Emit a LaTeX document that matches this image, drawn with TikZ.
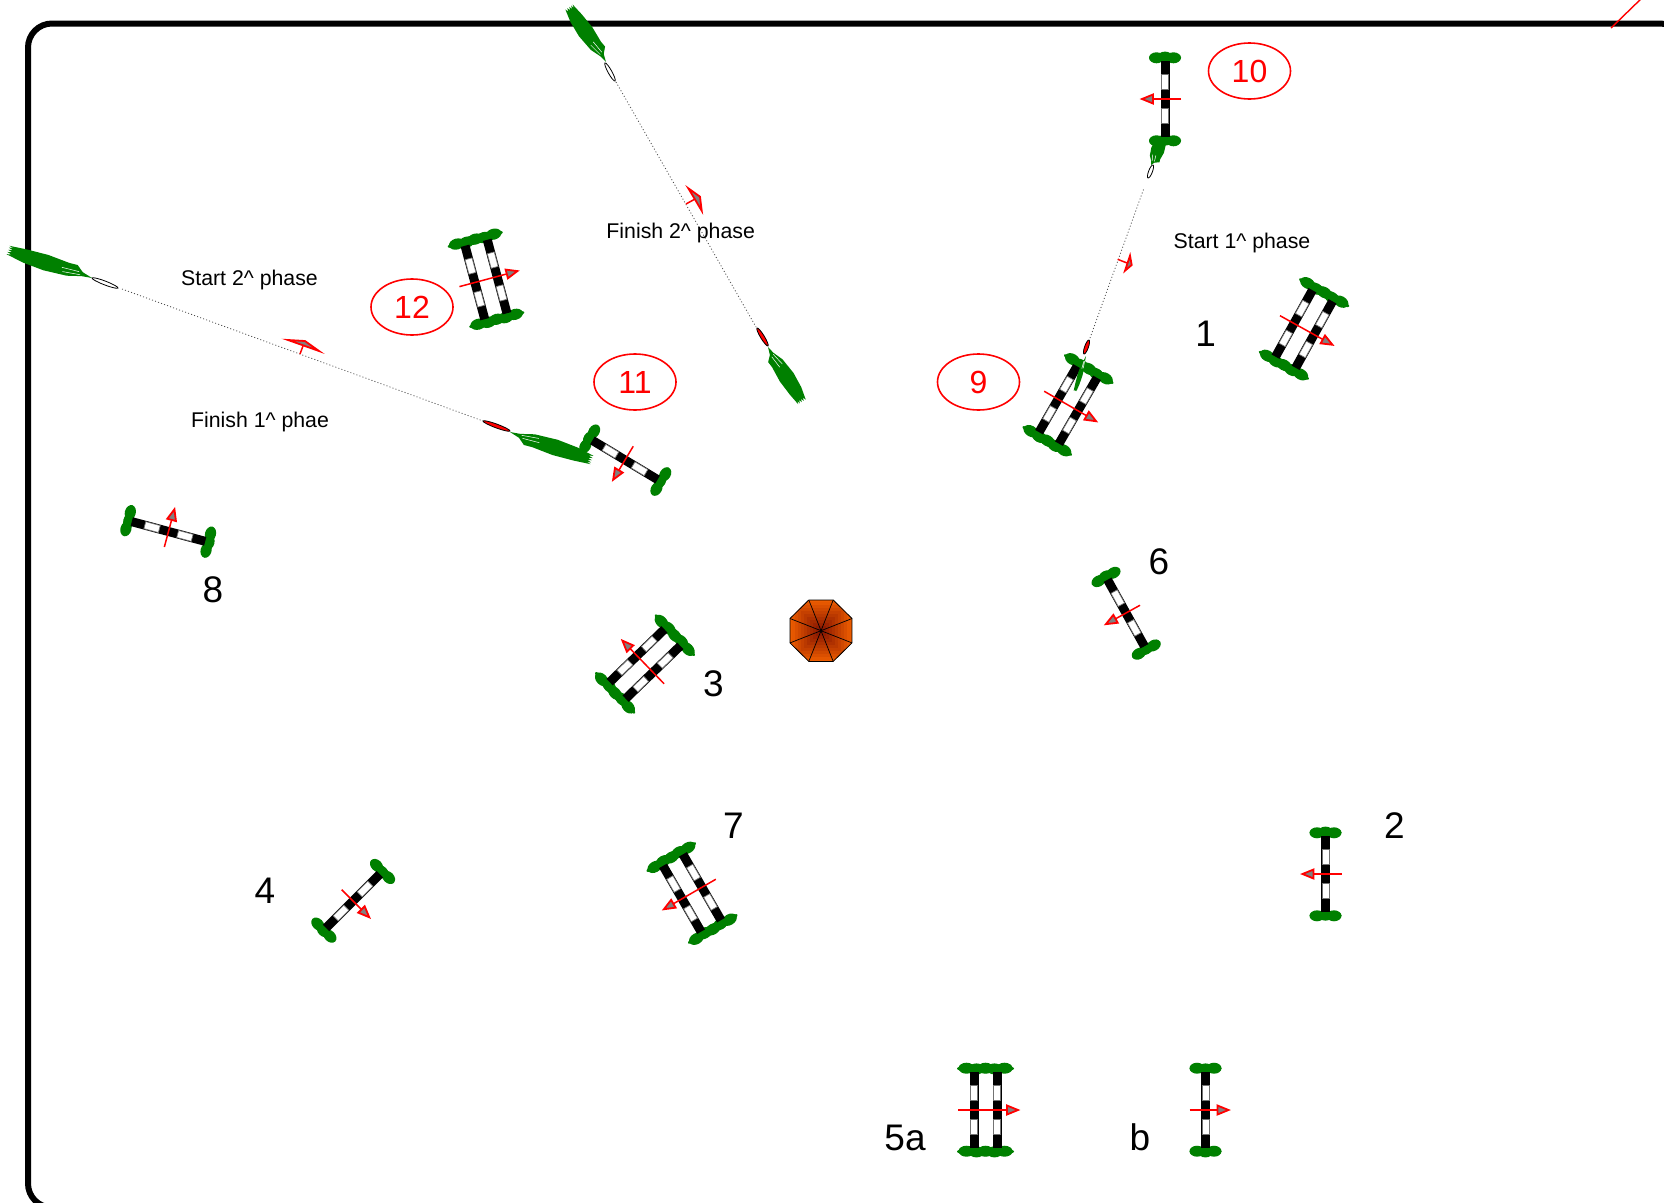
\documentclass[tikz,border=0pt]{standalone}
\usepackage{fontspec}
\setmainfont{Liberation Sans}
\usetikzlibrary{calc,shapes.geometric}
\definecolor{hedgegreen}{RGB}{0,128,0}
\definecolor{redmark}{RGB}{255,0,0}
\definecolor{umbout}{RGB}{236,92,0}
\definecolor{umbin}{RGB}{125,14,0}
\tikzset{
  arena/.style={line width=6pt,draw=black,rounded corners=24pt},
  hedgefill/.style={fill=hedgegreen,draw=none},
  redarrow/.style={draw=redmark,line width=1.5pt},
  redhead/.style={draw=redmark,fill=gray,line width=1.8pt,line join=miter},
  track/.style={draw=black!70,line width=0.8pt,dash pattern=on 1pt off 2.2pt},
  hoofmark/.style={draw=black,line width=0.8pt},
  bignum/.style={font=\fontsize{37}{37}\selectfont,text=black,inner sep=0pt},
  rednum/.style={font=\fontsize{32}{32}\selectfont,text=redmark,inner sep=0pt},
  ring/.style={draw=redmark,line width=1.6pt,ellipse,minimum width=82pt,minimum height=56pt,inner sep=0pt},
  phase/.style={font=\fontsize{21.3}{21.3}\selectfont,text=black,inner sep=0pt},
}
\newcommand\myrail[1]{%
  \fill[black] (#1-4.5,-38) rectangle (#1+4.5,38);
  \filldraw[fill=white,draw=black!55,line width=0.7pt] (#1-3.6,9.5) rectangle (#1+3.6,24.5);
  \filldraw[fill=white,draw=black!55,line width=0.7pt] (#1-3.6,-24.5) rectangle (#1+3.6,-9.5);
}
\newcommand\myarrow[2]{%
  \draw[redarrow] (#1,0) -- (#2-10,0);
  \draw[redhead] (#2,0) -- (#2-11,4.5) -- (#2-11,-4.5) -- cycle;
}
\newcommand\singlejump[3]{%
  \begin{scope}[shift={(#1,-#2)},rotate=#3]
    \foreach \s in {-41.5,41.5}{
      \fill[hedgefill] (0,\s) ellipse (16pt and 4.5pt);
      \foreach \h/\o in {-8.5/0.3,0/-0.4,8.5/0.3}{\fill[hedgefill] (\h,\s+\o) ellipse (7.5pt and 5.5pt);}
    }
    \myrail{0}
    \myarrow{-16}{23}
  \end{scope}}
\newcommand\doublejump[3]{%
  \begin{scope}[shift={(#1,-#2)},rotate=#3]
    \foreach \s in {-41.5,41.5}{
      \fill[hedgefill] (0,\s) ellipse (28.5pt and 4.5pt);
      \foreach \h/\o in {-19/0.3,-9/-0.4,0/0.3,9/-0.4,19/0.3}{\fill[hedgefill] (\h,\s+\o) ellipse (8pt and 5.5pt);}
    }
    \myrail{-11.5}
    \myrail{11.5}
    \myarrow{-27.5}{32.5}
  \end{scope}}
% tail of a horse track: from narrow end (#1,#2) to spiky end (#3,#4), width factor #5
\newcommand\broom[5]{%
  \pgfmathsetmacro\bdx{#3-#1}
  \pgfmathsetmacro\bdy{#2-#4}
  \pgfmathsetmacro\bang{atan2(\bdy,\bdx)}
  \pgfmathsetmacro\blen{veclen(\bdx,\bdy)}
  \begin{scope}[shift={(#1,-#2)},rotate=\bang,x=\blen pt,y=#5 pt]
    \fill[hedgegreen] (0,0) -- (0.12,1.2) -- (0.28,4.5) -- (0.55,6.2) -- (0.8,5.5) -- (1,3.4) -- (0.95,2.4) -- (1,1.6) -- (0.95,0.6) -- (1,-0.2) -- (0.95,-1) -- (1,-2) -- (0.95,-2.6) -- (1,-3.4) -- (0.8,-5) -- (0.55,-6.2) -- (0.3,-5.5) -- (0.2,-6) -- (0.12,-2) -- cycle;
    \draw[white,line width=0.5pt] (0.14,0.5) -- (0.34,2.5) (0.16,-1.5) -- (0.36,-0.5);
  \end{scope}}
\newcommand\hoof[5]{%
  \pgfmathsetmacro\bdx{#3-#1}
  \pgfmathsetmacro\bdy{#2-#4}
  \pgfmathsetmacro\bang{atan2(\bdy,\bdx)}
  \pgfmathsetmacro\blen{veclen(\bdx,\bdy)/2}
  \filldraw[hoofmark,fill=#5,rotate around={\bang:({(#1+#3)/2},{-(#2+#4)/2})}] ({(#1+#3)/2},{-(#2+#4)/2}) ellipse ({\blen pt} and 1.9pt);}
\begin{document}
\begin{tikzpicture}[x=1pt,y=1pt]
\useasboundingbox (0,0) rectangle (1664,-1202);
\begin{scope}
\clip (0,0) rectangle (1664,-1202);
\fill[white] (0,0) rectangle (1664,-1202);
\draw[arena] (28,-23.5) rectangle (1684,-1207.5);
\draw[draw=redmark,line width=1.4pt] (1611,-28) -- (1645,5);

% umbrella
\begin{scope}[shift={(821,-630.7)}]
  \coordinate (u1) at (-12.2,30.7);
  \coordinate (u2) at (12.2,30.7);
  \coordinate (u3) at (31,12.2);
  \coordinate (u4) at (31,-12.2);
  \coordinate (u5) at (12.2,-30.7);
  \coordinate (u6) at (-12.2,-30.7);
  \coordinate (u7) at (-31,-12.2);
  \coordinate (u8) at (-31,12.2);
  \coordinate (uc) at (0,0);
  \begin{scope}
    \clip (u1) -- (u2) -- (u3) -- (u4) -- (u5) -- (u6) -- (u7) -- (u8) -- cycle;
    \foreach \r in {32,29,...,2}{
      \pgfmathsetmacro\p{min(100,\r*100/31)}
      \fill[umbout!\p!umbin] (-\r,-\r) rectangle (\r,\r);
    }
  \end{scope}
  \draw[black,line width=0.8pt,line join=miter] (u1) -- (u2) -- (u3) -- (u4) -- (u5) -- (u6) -- (u7) -- (u8) -- cycle;
  \foreach \v in {u1,u2,u3,u4,u5,u6,u7,u8}{\draw[black,line width=0.7pt] (uc) -- (\v);}
\end{scope}

% jumps
\doublejump{1304}{329}{-29}
\singlejump{1325.5}{874}{180}
\doublejump{645}{664}{134}
\singlejump{353}{901}{-45}
\doublejump{985.5}{1110}{0}
\singlejump{1205.5}{1110}{0}
\singlejump{1126}{613}{209}
\doublejump{692}{893}{210}
\singlejump{168.5}{531.5}{75}
\doublejump{1068}{405}{-30}
\singlejump{1165}{99}{180}
\singlejump{625}{460}{239}
\doublejump{486}{279.5}{15}

% tracks
\coordinate (t1a) at (1090,-338);
\coordinate (t1b) at (1144,-188);
\coordinate (t2a) at (616,-82);
\coordinate (t2b) at (756,-327);
\coordinate (t3a) at (122,-289);
\coordinate (t3b) at (483,-421);
\draw[track] (t1a) -- (t1b);
\draw[track] (t2a) -- (t2b);
\draw[track] (t3a) -- (t3b);

% tails
\broom{92}{278}{8}{250}{1.3}
\broom{606}{62}{569}{7}{1.3}
\broom{768}{347}{802}{402}{1.3}
\broom{510}{432}{592}{460}{1.3}
\broom{1151}{165}{1163}{138}{1.1}
\broom{1086}{356}{1075}{391}{0.4}

% hooves
\hoof{92}{278}{118}{288}{white}
\hoof{605}{63}{615}{81}{white}
\hoof{1148}{178}{1153}{165}{white}
\hoof{483}{421}{510}{431}{redmark}
\hoof{757}{328}{768}{346}{redmark}
\hoof{1084}{354}{1089}{340}{redmark}

% small direction arrows
\draw[redarrow] (686,-204) -- (695,-199);
\draw[redhead] (688.3,-188.3) -- (700,-196.7) -- (701.7,-210.7) -- cycle;
\draw[redarrow] (300,-354) -- (303,-346);
\draw[redhead] (288,-340) -- (305,-341) -- (319,-351) -- cycle;
\draw[redarrow] (1117.7,-259.3) -- (1127,-263);
\draw[redhead] (1130,-255.7) -- (1131.7,-265) -- (1125,-270.7) -- cycle;

% number labels
\node[bignum] (n1) at (1205.7,-334) {1};
\node[bignum] (n2) at (1394.5,-826) {2};
\node[bignum] (n3) at (713.5,-683.5) {3};
\node[bignum] (n4) at (265,-891) {4};
\node[bignum] (n5a) at (905,-1138) {5a};
\node[bignum] (nb) at (1140,-1137) {b};
\node[bignum] (n6) at (1159,-562) {6};
\node[bignum] (n7) at (733.5,-826) {7};
\node[bignum] (n8) at (213,-590) {8};

% red rings
\node[ring] (r9) at (978.5,-382) {};
\node[ring] (r10) at (1249.5,-71) {};
\node[ring] (r11) at (635,-382) {};
\node[ring] (r12) at (412,-307) {};
\node[rednum] (t9) at (r9) {9};
\node[rednum] (t10) at (r10) {10};
\node[rednum] (t11) at (r11) {11};
\node[rednum] (t12) at (r12) {12};

% phase labels
\node[phase] (p1) at (1242,-242.5) {Start 1\^{} phase};
\node[phase] (p2) at (249.5,-280) {Start 2\^{} phase};
\node[phase] (p3) at (260,-422) {Finish 1\^{} phae};
\node[phase] (p4) at (680.7,-232.5) {Finish 2\^{} phase};
\end{scope}
\end{tikzpicture}
\end{document}
